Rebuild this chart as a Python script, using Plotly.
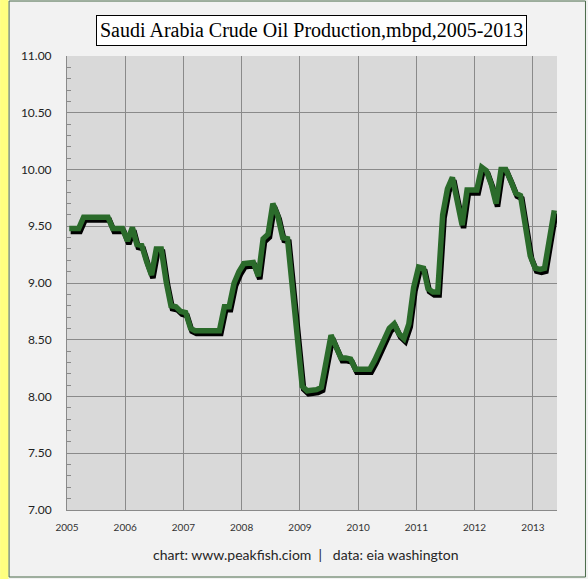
import plotly.graph_objects as go
import pandas as pd

# Monthly Saudi Arabia crude oil production, million barrels per day (Jan 2005 - May 2013)
production = [
    # 2005
    9.48, 9.48, 9.48, 9.58, 9.58, 9.58, 9.58, 9.58, 9.58, 9.48, 9.48, 9.48,
    # 2006
    9.37, 9.49, 9.34, 9.33, 9.19, 9.07, 9.30, 9.30, 9.01, 8.80, 8.79, 8.75,
    # 2007
    8.74, 8.60, 8.58, 8.58, 8.58, 8.58, 8.58, 8.58, 8.79, 8.79, 9.00, 9.10,
    # 2008
    9.17, 9.18, 9.18, 9.06, 9.39, 9.43, 9.70, 9.59, 9.40, 9.39, 8.92, 8.49,
    # 2009
    8.09, 8.05, 8.05, 8.06, 8.08, 8.31, 8.54, 8.44, 8.34, 8.34, 8.33, 8.24,
    # 2010
    8.24, 8.24, 8.24, 8.32, 8.41, 8.50, 8.60, 8.64, 8.55, 8.51, 8.64, 8.96,
    # 2011
    9.14, 9.13, 8.95, 8.92, 8.92, 9.60, 9.83, 9.93, 9.73, 9.51, 9.82, 9.82,
    # 2012
    9.82, 10.02, 9.99, 9.87, 9.70, 10.00, 10.00, 9.90, 9.79, 9.77, 9.50, 9.24,
    # 2013
    9.13, 9.12, 9.13, 9.40, 9.64,
]
start_month = "2005-01-01"
year_ticks = ["2005", "2006", "2007", "2008", "2009", "2010", "2011", "2012", "2013"]
title_text = "Saudi Arabia Crude Oil Production,mbpd,2005-2013"
footer_text = "chart: www.peakfish.ciom &nbsp;|&nbsp;&nbsp; data: eia washington"

months = pd.date_range(start_month, periods=len(production), freq="MS") + pd.Timedelta(days=14)

# small drop-shadow offset (about 1.5 px right, 3 px down)
shadow_x = months + pd.Timedelta(days=9)
shadow_y = [v - 0.026 for v in production]

fig = go.Figure()
fig.add_trace(go.Scatter(x=shadow_x, y=shadow_y, mode="lines",
                         line=dict(color="#000000", width=5.5), hoverinfo="skip",
                         showlegend=False))
fig.add_trace(go.Scatter(x=months, y=production, mode="lines",
                         line=dict(color="#2b6b2b", width=5.5), showlegend=False))

grid = "#8a8a8a"
fig.update_layout(
    width=588, height=579,
    margin=dict(l=67, r=30.5, t=56, b=69),
    paper_bgcolor="#f2f2f2",
    plot_bgcolor="#d9d9d9",
    xaxis=dict(
        type="date",
        range=["2005-01-01", "2013-06-01"],
        tickvals=[f"{y}-01-01" for y in year_ticks],
        ticktext=year_ticks,
        showgrid=True, gridcolor=grid, gridwidth=1,
        showline=True, linecolor=grid, linewidth=1,
        zeroline=False, ticks="",
        ticklabelstandoff=8,
        tickfont=dict(family="Lato", size=10, color="#333333"),
    ),
    yaxis=dict(
        range=[7, 11],
        dtick=0.5, tick0=7,
        tickformat=".2f",
        showgrid=True, gridcolor=grid, gridwidth=1,
        showline=True, linecolor=grid, linewidth=1,
        zeroline=False, ticks="",
        ticklabelstandoff=12,
        tickfont=dict(family="Lato", size=12, color="#222222"),
        minor=dict(dtick=0.1, tick0=7, ticks="inside", ticklen=4,
                   tickcolor=grid, showgrid=False),
    ),
    annotations=[
        dict(text=title_text, xref="paper", yref="paper", x=0.4995, y=1.057,
             xanchor="center", yanchor="middle", showarrow=False,
             font=dict(family="Liberation Serif", size=20, color="#000000"),
             bgcolor="#ffffff", bordercolor="#000000", borderwidth=1, borderpad=3),
        dict(text=footer_text, xref="paper", yref="paper", x=0.487, y=-0.099,
             xanchor="center", yanchor="middle", showarrow=False,
             font=dict(family="Lato", size=14, color="#262626")),
    ],
    shapes=[
        dict(type="rect", xref="paper", yref="paper", layer="above",
             x0=-0.1366, x1=-0.1193, y0=-0.153, y1=1.124,
             fillcolor="#ffff80", line=dict(width=0)),
        dict(type="rect", xref="paper", yref="paper", layer="above",
             x0=-0.1182, x1=1.0581, y0=-0.1476, y1=1.1211,
             fillcolor="rgba(0,0,0,0)", line=dict(color="#4a6a4a", width=1)),
    ],
)

fig.write_html("out.html",
               config={"displayModeBar": False},
               post_script="document.body.style.margin='0';document.body.style.background='#ffffff';")
